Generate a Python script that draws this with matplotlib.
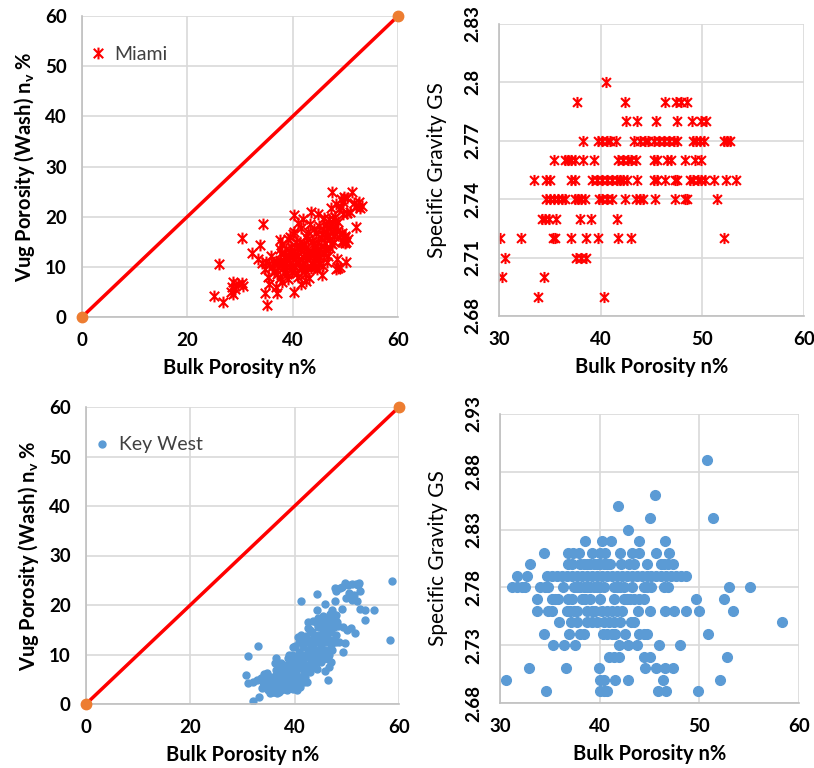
import matplotlib
matplotlib.use("Agg")
import matplotlib.pyplot as plt
from matplotlib.path import Path

plt.rcParams['font.family'] = ['Lato', 'DejaVu Sans']
plt.rcParams['mathtext.fontset'] = 'custom'
plt.rcParams['mathtext.bf'] = 'Lato:bold'
plt.rcParams['mathtext.rm'] = 'Lato:bold'

# Miami: bulk porosity n% vs vug porosity nv%
miami_pts = [
    (25.1, 4.1), (26.1, 10.5), (26.7, 3.0), (28.3, 5.0), (28.6, 7.0), (28.4, 6.0), (29.0, 5.5), (28.7, 4.5),
    (29.6, 6.5), (30.3, 6.7), (30.6, 6.1), (30.3, 15.8), (32.2, 12.8), (33.8, 14.3), (34.4, 18.6), (34.7, 4.7),
    (35.1, 2.3), (37.1, 4.8), (40.3, 5.0), (33.5, 11.5), (34.2, 10.8), (34.8, 9.5), (35.3, 8.0), (35.6, 6.5),
    (35.0, 11.0), (35.8, 12.2), (36.1, 10.0), (36.4, 9.0), (36.9, 11.2), (37.3, 10.5), (37.5, 7.8), (37.8, 12.8),
    (38.0, 14.5), (38.2, 9.8), (38.5, 11.7), (38.7, 13.5), (38.9, 8.5), (39.1, 15.5), (39.3, 12.2), (39.5, 10.8),
    (39.7, 14.0), (39.9, 9.0), (40.1, 16.5), (40.3, 20.3), (40.5, 12.5), (40.7, 11.0), (40.9, 13.8), (41.1, 8.0),
    (41.3, 15.0), (41.5, 17.8), (41.7, 10.2), (41.9, 12.0), (42.1, 14.5), (42.3, 9.2), (42.5, 16.0), (42.7, 11.5),
    (42.9, 13.0), (43.1, 7.8), (43.3, 18.5), (43.5, 21.0), (43.7, 15.2), (43.9, 10.5), (44.1, 12.8), (44.3, 14.0),
    (44.5, 16.8), (44.7, 9.5), (44.9, 11.8), (45.1, 13.5), (45.3, 15.8), (45.5, 8.3), (45.7, 17.5), (45.9, 12.5),
    (46.1, 14.8), (46.3, 18.5), (46.5, 11.0), (46.7, 16.2), (46.9, 19.5), (47.1, 13.8), (47.3, 21.8), (47.5, 25.0),
    (47.7, 17.0), (47.9, 15.0), (48.1, 20.0), (48.3, 22.5), (48.5, 11.5), (48.7, 9.8), (48.9, 16.5), (49.1, 23.5),
    (49.3, 15.2), (49.5, 23.0), (49.7, 16.0), (49.9, 14.8), (50.1, 11.0), (50.3, 20.8), (50.5, 15.5), (50.9, 20.9),
    (51.2, 25.0), (51.6, 22.8), (52.0, 22.0), (52.1, 18.0), (52.5, 23.0), (52.8, 21.8), (53.2, 22.2), (49.0, 10.0),
    (48.2, 9.5), (36.5, 11.0), (37.0, 8.5), (37.2, 10.0), (37.6, 11.2), (38.1, 10.5), (38.3, 12.0), (38.6, 9.2),
    (38.8, 10.8), (39.0, 11.5), (39.2, 7.5), (39.4, 13.0), (39.6, 9.8), (39.8, 12.8), (40.0, 11.5), (40.2, 13.2),
    (40.4, 10.0), (40.6, 15.0), (40.8, 8.8), (41.0, 12.2), (41.2, 11.0), (41.4, 13.5), (41.6, 9.5), (41.8, 14.0),
    (42.0, 10.8), (42.2, 12.5), (42.4, 8.5), (42.6, 13.8), (42.8, 10.0), (43.0, 15.5), (43.2, 12.0), (43.4, 9.8),
    (43.6, 13.0), (43.8, 11.2), (44.0, 14.8), (44.2, 10.0), (44.4, 12.0), (44.6, 13.2), (44.8, 15.0), (45.0, 10.5),
    (45.2, 12.0), (45.4, 14.2), (45.6, 16.5), (45.8, 10.2), (46.0, 13.0), (46.2, 16.0), (46.4, 13.5), (46.6, 17.8),
    (46.8, 12.2), (47.0, 15.5), (47.2, 18.2), (47.4, 14.5), (47.6, 19.5), (47.8, 16.2), (48.0, 18.0), (48.4, 17.2),
    (48.6, 19.0), (48.8, 21.5), (49.2, 22.0), (49.4, 16.8), (49.6, 20.5), (50.0, 16.2), (50.2, 15.0), (50.4, 23.8),
    (49.8, 24.0), (41.0, 18.8), (42.0, 19.5), (43.0, 17.0), (44.0, 17.5), (40.2, 17.0), (39.5, 16.0), (41.5, 6.5),
    (42.5, 7.2), (38.0, 7.0), (36.8, 6.0), (35.5, 10.5), (37.5, 13.5), (44.8, 20.5), (46.0, 19.8), (45.0, 18.2),
    (37.6, 15.3), (50.0, 16.0), (49.6, 14.9),
]

# Miami: specific gravity rows -> bulk porosity values
miami_gs_rows = [
    (2.80, [40.5]),
    (2.79, [37.7, 42.4, 46.3, 47.4, 47.9, 48.5]),
    (2.78, [42.5, 43.6, 45.4, 47.5, 49.0, 49.9, 50.4]),
    (2.77, [38.3, 39.7, 40.1, 40.6, 40.9, 41.5, 43.3, 43.9, 44.4, 44.7, 45.2, 45.7, 46.2, 46.7, 47.2, 47.5,
            49.1, 49.4, 49.8, 50.2, 52.1, 52.4, 52.7]),
    (2.76, [35.4, 36.5, 36.8, 37.1, 37.5, 38.3, 39.3, 41.7, 42.2, 42.7, 43.0, 43.5, 45.2, 45.5, 46.5, 46.9,
            48.3, 49.3, 49.9]),
    (2.75, [33.4, 34.6, 35.0, 37.1, 37.5, 39.1, 39.6, 40.1, 40.6, 41.1, 41.6, 41.9, 42.2, 42.6, 43.6, 45.2,
            45.5, 46.3, 47.3, 47.5, 48.8, 49.1, 49.6, 49.9, 50.3, 51.1, 52.3, 53.3]),
    (2.74, [34.6, 35.0, 35.4, 35.8, 36.2, 36.5, 37.5, 37.8, 38.1, 38.5, 39.8, 40.1, 40.6, 41.1, 42.4, 43.5,
            43.9, 44.2, 45.3, 47.3, 48.3, 48.5, 51.4]),
    (2.73, [34.2, 34.5, 34.9, 35.6, 38.0, 39.0, 41.6]),
    (2.72, [30.1, 32.2, 35.3, 35.5, 37.1, 38.6, 39.7, 41.7, 43.0, 52.1]),
    (2.71, [30.6, 37.6, 38.1, 38.6]),
    (2.70, [30.3, 34.4]),
    (2.69, [33.8, 40.3]),
]

# Key West: bulk porosity n% vs vug porosity nv%
keywest_pts = [
    (30.6, 5.8), (31.1, 9.7), (32.9, 11.7), (32.0, 0.6), (31.1, 4.2), (32.1, 4.5), (32.7, 4.9), (33.1, 1.5),
    (34.7, 6.3), (34.2, 3.6), (36.5, 9.3), (36.3, 8.3), (41.3, 20.9), (44.2, 22.2), (47.7, 20.9), (47.7, 23.5),
    (47.9, 22.8), (48.7, 23.5), (49.6, 24.5), (50.2, 24.0), (51.0, 24.2), (51.8, 24.3), (52.4, 24.5), (52.2, 24.0),
    (51.4, 22.0), (50.5, 22.5), (49.8, 21.5), (50.9, 21.0), (52.6, 22.8), (52.0, 20.8), (52.6, 19.1), (53.5, 17.0),
    (53.4, 18.9), (55.2, 19.0), (58.6, 24.8), (58.3, 12.9), (49.3, 10.6), (51.6, 14.3), (50.8, 15.3), (49.6, 12.3),
    (46.4, 4.8), (45.8, 6.6), (48.4, 15.7), (44.2, 19.0), (44.5, 17.3), (42.6, 15.3), (45.8, 20.3), (47.2, 19.0),
    (49.0, 19.2), (48.0, 18.0), (46.8, 18.2), (43.5, 16.8), (44.0, 16.5), (46.0, 15.5), (47.5, 16.0), (49.2, 15.5),
    (50.0, 15.0), (48.5, 12.5), (47.0, 12.0), (46.5, 10.0), (47.0, 8.5), (46.5, 7.5), (45.5, 9.0), (49.0, 23.7),
    (34.0, 4.5), (34.5, 5.0), (35.0, 3.0), (35.2, 4.2), (35.5, 5.5), (35.8, 2.5), (35.6, 3.5), (36.0, 4.8),
    (34.8, 2.8), (33.8, 3.2), (33.5, 5.2), (34.2, 6.0), (36.2, 3.2), (36.4, 5.8), (36.6, 4.0), (36.8, 2.8),
    (37.0, 5.0), (37.2, 6.2), (37.4, 3.5), (37.6, 4.5), (37.8, 7.0), (36.5, 6.8), (37.0, 3.8), (37.5, 5.8),
    (38.0, 3.0), (36.9, 7.5), (37.3, 8.3), (38.2, 4.2), (38.4, 5.5), (38.6, 6.8), (38.8, 3.5), (39.0, 4.8),
    (39.2, 7.5), (39.4, 5.8), (39.6, 3.0), (39.8, 8.5), (38.3, 7.8), (38.7, 9.2), (39.1, 6.2), (39.5, 9.8),
    (39.9, 5.5), (38.5, 2.8), (39.3, 4.0), (38.9, 10.0), (39.7, 11.5), (38.1, 6.0), (39.0, 8.0), (40.0, 4.5),
    (40.2, 6.5), (40.4, 8.0), (40.6, 3.5), (40.8, 10.5), (41.0, 5.5), (41.2, 7.2), (41.4, 9.0), (41.6, 11.5),
    (41.8, 6.0), (40.1, 11.8), (40.5, 9.5), (40.9, 12.5), (41.3, 13.5), (41.7, 4.5), (40.3, 7.0), (40.7, 5.0),
    (41.1, 8.5), (41.5, 10.0), (41.9, 12.8), (40.6, 13.5), (41.2, 14.0), (40.0, 9.0), (41.8, 8.0), (42.0, 5.5),
    (42.2, 7.0), (42.4, 9.5), (42.6, 11.0), (42.8, 13.0), (43.0, 6.5), (43.2, 8.5), (43.4, 10.5), (43.6, 12.0),
    (43.8, 14.0), (42.1, 10.0), (42.5, 12.5), (42.9, 8.0), (43.3, 14.5), (43.7, 9.5), (42.3, 4.5), (42.7, 6.8),
    (43.1, 11.5), (43.5, 7.5), (43.9, 11.0), (42.2, 13.8), (43.0, 15.0), (42.6, 16.5), (43.4, 13.0), (44.0, 8.5),
    (44.2, 10.5), (44.4, 12.5), (44.6, 14.0), (44.8, 9.5), (45.0, 11.5), (45.2, 13.0), (45.4, 15.0), (45.6, 10.5),
    (45.8, 12.5), (44.1, 13.5), (44.5, 15.5), (44.9, 17.0), (45.3, 16.5), (45.7, 14.0), (44.3, 7.0), (45.1, 8.5),
    (45.5, 17.8), (45.9, 16.0), (44.7, 11.0), (45.2, 10.0), (44.4, 16.0), (46.0, 11.0), (46.2, 13.5), (46.4, 15.0),
    (46.6, 17.0), (46.8, 12.5), (47.0, 14.5), (47.2, 16.5), (47.4, 13.0), (47.6, 15.5), (47.8, 17.5), (46.3, 9.0),
    (46.7, 18.0), (47.1, 11.0), (47.5, 17.0), (47.9, 14.0), (46.1, 16.5), (46.9, 15.8), (47.3, 18.2), (48.0, 12.5),
    (48.2, 16.5), (38.2, 3.5), (38.6, 4.0), (39.0, 3.2), (39.4, 4.5), (39.8, 3.8), (40.2, 3.2), (40.6, 4.2),
    (37.0, 2.5), (37.8, 3.8), (36.0, 2.5), (35.3, 2.2), (36.6, 2.2), (37.4, 2.8), (40.5, 2.8), (41.0, 3.5),
]

# Key West: specific gravity rows -> bulk porosity values
keywest_gs_rows = [
    (2.89, [50.8]),
    (2.86, [45.6]),
    (2.85, [41.8]),
    (2.84, [45.1, 51.4]),
    (2.83, [42.8]),
    (2.82, [38.5, 40.2, 41.1, 43.9, 46.6]),
    (2.81, [34.4, 36.8, 37.3, 37.9, 39.2, 40.0, 40.5, 42.0, 43.2, 43.9, 45.7, 47.0]),
    (2.80, [33.0, 36.8, 37.2, 38.0, 38.4, 38.7, 39.0, 39.4, 39.7, 40.0, 40.4, 40.7, 41.0, 42.1, 42.9, 43.4,
            44.7, 46.2, 46.5, 46.9, 47.4]),
    (2.79, [31.7, 32.7, 34.7, 35.2, 35.7, 36.2, 36.7, 37.2, 37.7, 38.2, 38.7, 39.2, 39.7, 40.2, 40.7, 41.2,
            41.7, 42.2, 42.7, 43.2, 43.7, 44.2, 44.7, 45.2, 45.7, 46.2, 46.7, 47.2, 47.7, 48.2, 48.7]),
    (2.78, [31.2, 31.7, 32.2, 32.5, 34.0, 34.5, 34.8, 36.3, 37.4, 37.7, 38.0, 38.4, 38.7, 39.0, 39.4, 39.7,
            40.0, 40.4, 41.4, 41.7, 42.0, 42.4, 43.2, 44.4, 44.7, 45.2, 46.5, 46.9, 53.0, 55.1]),
    (2.77, [33.7, 35.2, 35.5, 35.8, 36.8, 37.2, 38.2, 38.5, 39.0, 40.0, 41.4, 42.4, 42.7, 43.0, 43.4, 43.9,
            44.4, 49.7, 52.5]),
    (2.76, [33.7, 34.8, 35.2, 36.7, 37.0, 37.4, 37.7, 38.7, 39.2, 39.5, 40.2, 40.7, 41.2, 41.7, 42.2, 43.8,
            45.1, 46.6, 47.5, 48.7, 50.0, 53.4]),
    (2.75, [35.9, 37.1, 37.7, 38.7, 39.2, 39.7, 40.4, 40.9, 41.4, 42.0, 43.1, 43.4, 58.3]),
    (2.74, [34.4, 36.9, 38.0, 38.4, 40.3, 40.7, 41.2, 41.5, 42.5, 43.9, 44.4, 44.7, 50.9]),
    (2.73, [35.3, 36.4, 37.5, 41.9, 42.8, 43.7, 46.0, 48.1]),
    (2.72, [40.9, 41.4, 41.9, 44.4, 45.1, 52.8]),
    (2.71, [32.9, 36.6, 39.9, 44.5, 45.7, 46.6, 47.4]),
    (2.70, [30.6, 40.0, 40.4, 41.5, 42.8, 46.4, 52.1]),
    (2.69, [34.6, 40.0, 40.4, 40.7, 45.9, 46.7, 49.9]),
]

line_x = [0, 60]
line_y = [0, 60]

RED = '#FF0000'
ORANGE = '#ED7D31'
BLUE = '#5B9BD5'
GRID = '#D9D9D9'

# Excel-style "star" marker: X with a vertical bar
star = Path([(-1, -1), (1, 1), (-1, 1), (1, -1), (0, -1.25), (0, 1.25)],
            [Path.MOVETO, Path.LINETO] * 3)


def style_axes(ax, rotate_y=False):
    ax.grid(True, color=GRID, linewidth=1.2)
    ax.set_axisbelow(True)
    for side in ['top', 'right']:
        ax.spines[side].set_visible(False)
    for side in ['left', 'bottom']:
        ax.spines[side].set_color('#BFBFBF')
        ax.spines[side].set_linewidth(1.2)
    ax.tick_params(length=0, labelsize=13.5, pad=11)
    for lbl in ax.get_xticklabels() + ax.get_yticklabels():
        lbl.set_fontweight('bold')
    if rotate_y:
        for lbl in ax.get_yticklabels():
            lbl.set_rotation(90)
            lbl.set_va('center')


def diag(ax):
    ax.plot(line_x, line_y, color=RED, linewidth=2.5, zorder=3)
    ax.plot(line_x, line_y, linestyle='none', marker='o', markersize=7.5,
            color=ORANGE, clip_on=False, zorder=4)


fig = plt.figure(figsize=(8.14, 7.68), dpi=100)

# --- top left: Miami nv vs n
ax1 = fig.add_axes([82 / 814, 1 - 317 / 768, 316 / 814, 301 / 768])
mx = [p[0] for p in miami_pts]
my = [p[1] for p in miami_pts]
ax1.plot(mx, my, linestyle='none', marker=star, markersize=8.5, markeredgecolor=RED,
         markeredgewidth=1.5, label='Miami', zorder=2)
diag(ax1)
ax1.set_xlim(0, 60)
ax1.set_ylim(0, 60)
ax1.set_xticks([0, 20, 40, 60])
ax1.set_yticks([0, 10, 20, 30, 40, 50, 60])
style_axes(ax1)
ax1.set_xlabel('Bulk Porosity n%', fontsize=14.5, fontweight='bold', labelpad=6)
ax1.set_ylabel('Vug Porosity (Wash) n$_{\\mathbf{v}}$ %', fontsize=14.5, fontweight='bold', labelpad=6)
h, l = ax1.get_legend_handles_labels()
ax1.legend(h[:1], l[:1], loc='upper left', bbox_to_anchor=(-0.035, 0.96), frameon=False,
           handlelength=1.0, handletextpad=0.35, fontsize=14, labelcolor='#404040')

# --- top right: Miami GS vs n
ax2 = fig.add_axes([499 / 814, 1 - 316 / 768, 305 / 814, 292 / 768])
gx = []
gy = []
for gs, vals in miami_gs_rows:
    for v in vals:
        gx.append(v)
        gy.append(gs)
ax2.plot(gx, gy, linestyle='none', marker=star, markersize=8, markeredgecolor=RED,
         markeredgewidth=1.5)
ax2.set_xlim(30, 60)
ax2.set_ylim(2.68, 2.83)
ax2.set_xticks([30, 40, 50, 60])
ax2.set_yticks([2.68, 2.71, 2.74, 2.77, 2.80, 2.83])
ax2.set_yticklabels(['2.68', '2.71', '2.74', '2.77', '2.8', '2.83'])
style_axes(ax2, rotate_y=True)
ax2.tick_params(axis='y', pad=13)
ax2.set_xlabel('Bulk Porosity n%', fontsize=14.5, fontweight='bold', labelpad=6)
ax2.set_ylabel('Specific Gravity GS', fontsize=15, labelpad=12)

# --- bottom left: Key West nv vs n
ax3 = fig.add_axes([86 / 814, 1 - 704 / 768, 313 / 814, 297 / 768])
kx = [p[0] for p in keywest_pts]
ky = [p[1] for p in keywest_pts]
ax3.plot(kx, ky, linestyle='none', marker='o', markersize=5, color=BLUE,
         label='Key West', zorder=2)
diag(ax3)
ax3.set_xlim(0, 60)
ax3.set_ylim(0, 60)
ax3.set_xticks([0, 20, 40, 60])
ax3.set_yticks([0, 10, 20, 30, 40, 50, 60])
style_axes(ax3)
ax3.set_xlabel('Bulk Porosity n%', fontsize=14.5, fontweight='bold', labelpad=6)
ax3.set_ylabel('Vug Porosity (Wash) n$_{\\mathbf{v}}$ %', fontsize=14.5, fontweight='bold', labelpad=6)
h, l = ax3.get_legend_handles_labels()
ax3.legend(h[:1], l[:1], loc='upper left', bbox_to_anchor=(-0.035, 0.96), frameon=False,
           handlelength=1.0, handletextpad=0.35, fontsize=14, labelcolor='#404040')

# --- bottom right: Key West GS vs n
ax4 = fig.add_axes([500 / 814, 1 - 703 / 768, 299 / 814, 289 / 768])
kgx = []
kgy = []
for gs, vals in keywest_gs_rows:
    for v in vals:
        kgx.append(v)
        kgy.append(gs)
ax4.plot(kgx, kgy, linestyle='none', marker='o', markersize=7, color=BLUE)
ax4.set_xlim(30, 60)
ax4.set_ylim(2.68, 2.93)
ax4.set_xticks([30, 40, 50, 60])
ax4.set_yticks([2.68, 2.73, 2.78, 2.83, 2.88, 2.93])
ax4.set_yticklabels(['2.68', '2.73', '2.78', '2.83', '2.88', '2.93'])
style_axes(ax4, rotate_y=True)
ax4.tick_params(axis='y', pad=13)
ax4.set_xlabel('Bulk Porosity n%', fontsize=14.5, fontweight='bold', labelpad=6)
ax4.set_ylabel('Specific Gravity GS', fontsize=15, labelpad=12)

fig.savefig('out.png', dpi=100)
